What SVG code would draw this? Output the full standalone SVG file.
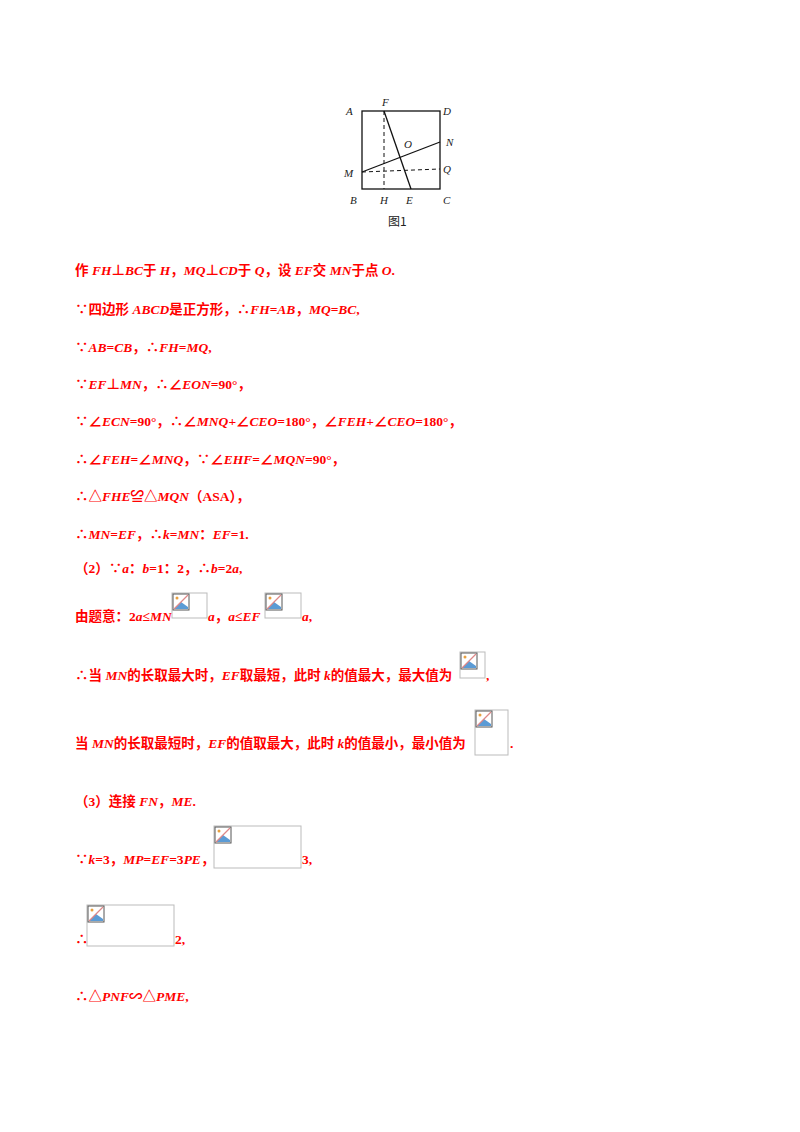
<svg xmlns="http://www.w3.org/2000/svg" width="800" height="1132" viewBox="0 0 800 1132">
<style>
.t{font-family:"Liberation Serif","Noto Sans CJK SC",serif;font-size:13.5px;fill:#f00;font-weight:bold}
.i{font-style:italic}
.l{font-family:"Liberation Serif",serif;font-size:11px;font-style:italic;fill:#222}
.ln{stroke:#111;stroke-width:1.3;fill:none}
.d{stroke:#111;stroke-width:1;stroke-dasharray:4,3;fill:none}
.ph{fill:#fff;stroke:#bbb;stroke-width:1}
</style>
<defs>
<g id="ic"><rect x="0" y="0" width="16" height="16" fill="#fff" stroke="#555" stroke-width="1"/><path d="M1 15 L8 8 L15 13 L15 15 Z" fill="#5b9bd5"/><circle cx="4" cy="4" r="1.5" fill="#e8a040"/><line x1="1" y1="15" x2="15" y2="1" stroke="#d88" stroke-width="1.2"/></g>
</defs>
<g id="figure">
<rect class="ln" x="362" y="111" width="78" height="78"/>
<line class="ln" x1="384" y1="111" x2="411" y2="189"/>
<line class="ln" x1="362" y1="172" x2="440" y2="142"/>
<line class="d" x1="384" y1="111" x2="384" y2="189"/>
<line class="d" x1="362" y1="172" x2="440" y2="169"/>
<text class="l" x="346" y="115">A</text><text class="l" x="382" y="106">F</text><text class="l" x="443" y="115">D</text>
<text class="l" x="446" y="146">N</text><text class="l" x="404" y="148">O</text><text class="l" x="344" y="177">M</text>
<text class="l" x="443" y="173">Q</text><text class="l" x="350" y="204">B</text><text class="l" x="380" y="204">H</text>
<text class="l" x="406" y="204">E</text><text class="l" x="443" y="204">C</text>
<text x="388" y="226" style="font-family:'Noto Sans CJK SC',serif;font-size:12px;fill:#222">图1</text>
</g>
<g id="text">
<text class="t" x="75" y="275">作 <tspan class="i">FH</tspan>⊥<tspan class="i">BC</tspan>于 <tspan class="i">H</tspan>，<tspan class="i">MQ</tspan>⊥<tspan class="i">CD</tspan>于 <tspan class="i">Q</tspan>，设 <tspan class="i">EF</tspan>交 <tspan class="i">MN</tspan>于点 <tspan class="i">O</tspan>.</text>
<text class="t" x="75" y="314">∵四边形 <tspan class="i">ABCD</tspan>是正方形，∴<tspan class="i">FH</tspan>=<tspan class="i">AB</tspan>，<tspan class="i">MQ</tspan>=<tspan class="i">BC</tspan>,</text>
<text class="t" x="75" y="352">∵<tspan class="i">AB</tspan>=<tspan class="i">CB</tspan>，∴<tspan class="i">FH</tspan>=<tspan class="i">MQ</tspan>,</text>
<text class="t" x="75" y="389">∵<tspan class="i">EF</tspan>⊥<tspan class="i">MN</tspan>，∴∠<tspan class="i">EON</tspan>=90°，</text>
<text class="t" x="75" y="426">∵∠<tspan class="i">ECN</tspan>=90°，∴∠<tspan class="i">MNQ</tspan>+∠<tspan class="i">CEO</tspan>=180°，∠<tspan class="i">FEH</tspan>+∠<tspan class="i">CEO</tspan>=180°，</text>
<text class="t" x="75" y="464">∴∠<tspan class="i">FEH</tspan>=∠<tspan class="i">MNQ</tspan>，∵∠<tspan class="i">EHF</tspan>=∠<tspan class="i">MQN</tspan>=90°，</text>
<text class="t" x="75" y="501">∴△<tspan class="i">FHE</tspan>≌△<tspan class="i">MQN</tspan>（ASA），</text>
<text class="t" x="75" y="539">∴<tspan class="i">MN</tspan>=<tspan class="i">EF</tspan>，∴<tspan class="i">k</tspan>=<tspan class="i">MN</tspan>：<tspan class="i">EF</tspan>=1.</text>
<text class="t" x="75" y="573">（2）∵<tspan class="i">a</tspan>：<tspan class="i">b</tspan>=1：2，∴<tspan class="i">b</tspan>=2<tspan class="i">a</tspan>,</text>
<text class="t" x="75" y="621">由题意：2<tspan class="i">a</tspan>≤<tspan class="i">MN</tspan></text>
<text class="t" x="208" y="621"><tspan class="i">a</tspan>，<tspan class="i">a</tspan>≤<tspan class="i">EF</tspan></text>
<text class="t" x="302" y="621"><tspan class="i">a</tspan>,</text>
<text class="t" x="75" y="680">∴当 <tspan class="i">MN</tspan>的长取最大时，<tspan class="i">EF</tspan>取最短，此时 <tspan class="i">k</tspan>的值最大，最大值为</text>
<text class="t" x="486" y="680">,</text>
<text class="t" x="75" y="748">当 <tspan class="i">MN</tspan>的长取最短时，<tspan class="i">EF</tspan>的值取最大，此时 <tspan class="i">k</tspan>的值最小，最小值为</text>
<text class="t" x="510" y="748">.</text>
<text class="t" x="75" y="806">（3）连接 <tspan class="i">FN</tspan>，<tspan class="i">ME</tspan>.</text>
<text class="t" x="75" y="864">∵<tspan class="i">k</tspan>=3，<tspan class="i">MP</tspan>=<tspan class="i">EF</tspan>=3<tspan class="i">PE</tspan>，∴</text>
<text class="t" x="302" y="864">3,</text>
<text class="t" x="75" y="944">∴</text>
<text class="t" x="175" y="944">2,</text>
<text class="t" x="75" y="1001">∴△<tspan class="i">PNF</tspan>∽△<tspan class="i">PME</tspan>,</text>
</g>
<g id="placeholders">
<rect class="ph" x="172" y="593" width="35" height="25"/><use href="#ic" x="173" y="594"/>
<rect class="ph" x="265" y="593" width="36" height="25"/><use href="#ic" x="266" y="594"/>
<rect class="ph" x="460" y="652" width="25" height="26"/><use href="#ic" x="461" y="653"/>
<rect class="ph" x="475" y="710" width="33" height="45"/><use href="#ic" x="476" y="711"/>
<rect class="ph" x="214" y="826" width="87" height="42"/><use href="#ic" x="215" y="827"/>
<rect class="ph" x="87" y="905" width="87" height="41"/><use href="#ic" x="88" y="906"/>
</g>
</svg>
